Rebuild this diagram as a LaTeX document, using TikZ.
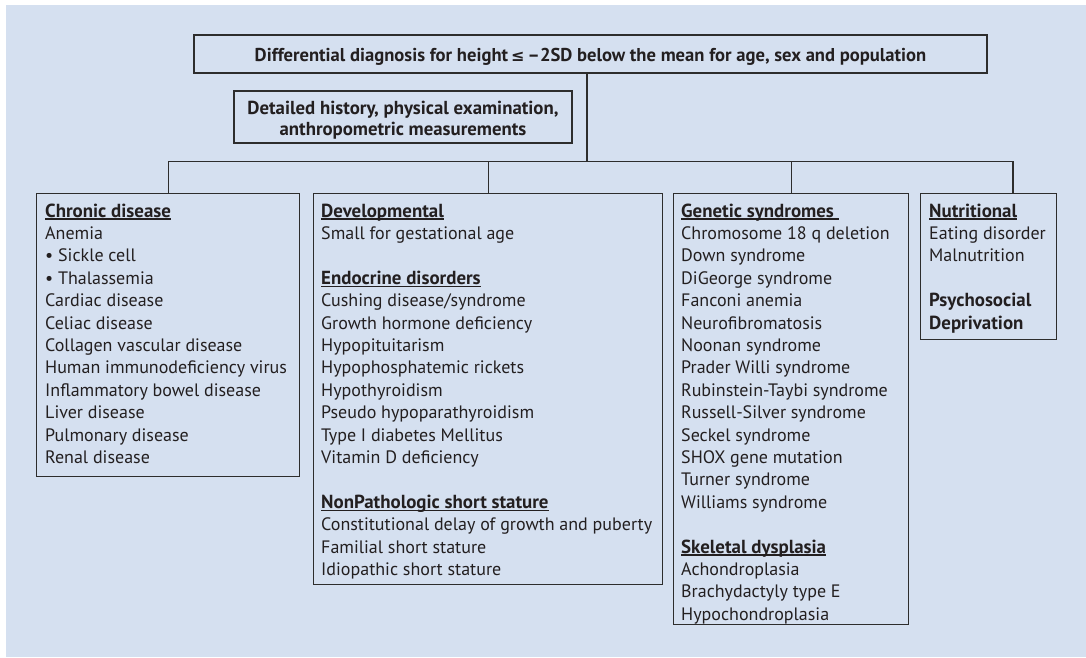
\documentclass[tikz,border=0pt]{standalone}
\usepackage{fontspec}
\setmainfont{PT Sans}
\newfontfamily\dvsym{DejaVu Sans}
\definecolor{bgc}{RGB}{213,224,240}
\definecolor{linec}{RGB}{45,45,45}
\definecolor{txtc}{RGB}{35,31,32}
\newsavebox\hdbox
\newcommand\hd[1]{\sbox\hdbox{\fontsize{18.9}{22.4}\selectfont\bfseries #1}\rlap{\rule[-2.4pt]{\wd\hdbox}{1.1pt}}\usebox\hdbox}
\newcommand\hb[1]{{\fontsize{18.9}{22.4}\selectfont\bfseries #1}}
\begin{document}
\begin{tikzpicture}[x=1pt,y=-1pt,
  box/.style={draw=linec, line width=1.2pt, rectangle, inner sep=0pt, text=txtc},
  lbl/.style={inner sep=0pt, text=txtc},
  lst/.style={anchor=north west, inner sep=0pt, align=left, text=txtc,
    font=\fontsize{18}{22.4}\selectfont},
  conn/.style={draw=linec, line width=1.2pt}]
\useasboundingbox (0,0) rectangle (1086,657);
\fill[bgc] (6,5) rectangle (1086,657);

\node[box, minimum width=793pt, minimum height=38pt] (top) at (590.5,54) {};
\node[lbl, font=\fontsize{18.6}{22}\selectfont\bfseries] (toptext) at (590.5,57)
  {Differential diagnosis for height\,{\dvsym\fontsize{16}{20}\selectfont ≤}\,–2SD below the mean for age, sex and population};
\node[box, minimum width=338pt, minimum height=52pt] (hist) at (403,117) {};
\node[lbl, align=center, font=\fontsize{18.8}{21}\selectfont\bfseries] (histtext) at (403,120)
  {Detailed history, physical examination,\\anthropometric measurements};

\node[box, anchor=north west, minimum width=263pt, minimum height=283pt] (c1) at (36,193) {};
\node[box, anchor=north west, minimum width=349pt, minimum height=391pt] (c2) at (313,193) {};
\node[box, anchor=north west, minimum width=235pt, minimum height=431pt] (c3) at (673,193) {};
\node[box, anchor=north west, minimum width=136pt, minimum height=146pt] (c4) at (920,193) {};

\node[lst] (t1) at (45,201.3) {\strut\hd{Chronic disease}\\
Anemia\\
• Sickle cell\\
• Thalassemia\\
Cardiac disease\\
Celiac disease\\
Collagen vascular disease\\
Human immunodeficiency virus\\
Inflammatory bowel disease\\
Liver disease\\
Pulmonary disease\\
Renal disease};

\node[lst] (t2) at (321,201.3) {\strut\hd{Developmental}\\
Small for gestational age\\[22.4pt]
\hd{Endocrine disorders}\\
Cushing disease/syndrome\\
Growth hormone deficiency\\
Hypopituitarism\\
Hypophosphatemic rickets\\
Hypothyroidism\\
Pseudo hypoparathyroidism\\
Type I diabetes Mellitus\\
Vitamin D deficiency\\[22.4pt]
\hd{NonPathologic short stature}\\
Constitutional delay of growth and puberty\\
Familial short stature\\
Idiopathic short stature};

\node[lst] (t3) at (681,201.3) {\strut\hd{Genetic syndromes\ }\\
Chromosome 18 q deletion\\
Down syndrome\\
DiGeorge syndrome\\
Fanconi anemia\\
Neurofibromatosis\\
Noonan syndrome\\
Prader Willi syndrome\\
Rubinstein-Taybi syndrome\\
Russell-Silver syndrome\\
Seckel syndrome\\
SHOX gene mutation\\
Turner syndrome\\
Williams syndrome\\[22.4pt]
\hd{Skeletal dysplasia}\\
Achondroplasia\\
Brachydactyly type E\\
Hypochondroplasia};

\node[lst] (t4) at (929,201.3) {\strut\hd{Nutritional}\\
Eating disorder\\
Malnutrition\\[22.4pt]
\hb{Psychosocial}\\
\hb{Deprivation}};

\coordinate (hub) at (587,161.5);
\coordinate (drop4) at (1013,161.5);
\draw[conn] (top.south -| hub) -- (hub);
\draw[conn] (c1.north) |- (drop4) -- (drop4 |- c4.north);
\draw[conn] (c2.north) -- (c2.north |- hub);
\draw[conn] (c3.north) -- (c3.north |- hub);
\end{tikzpicture}
\end{document}
